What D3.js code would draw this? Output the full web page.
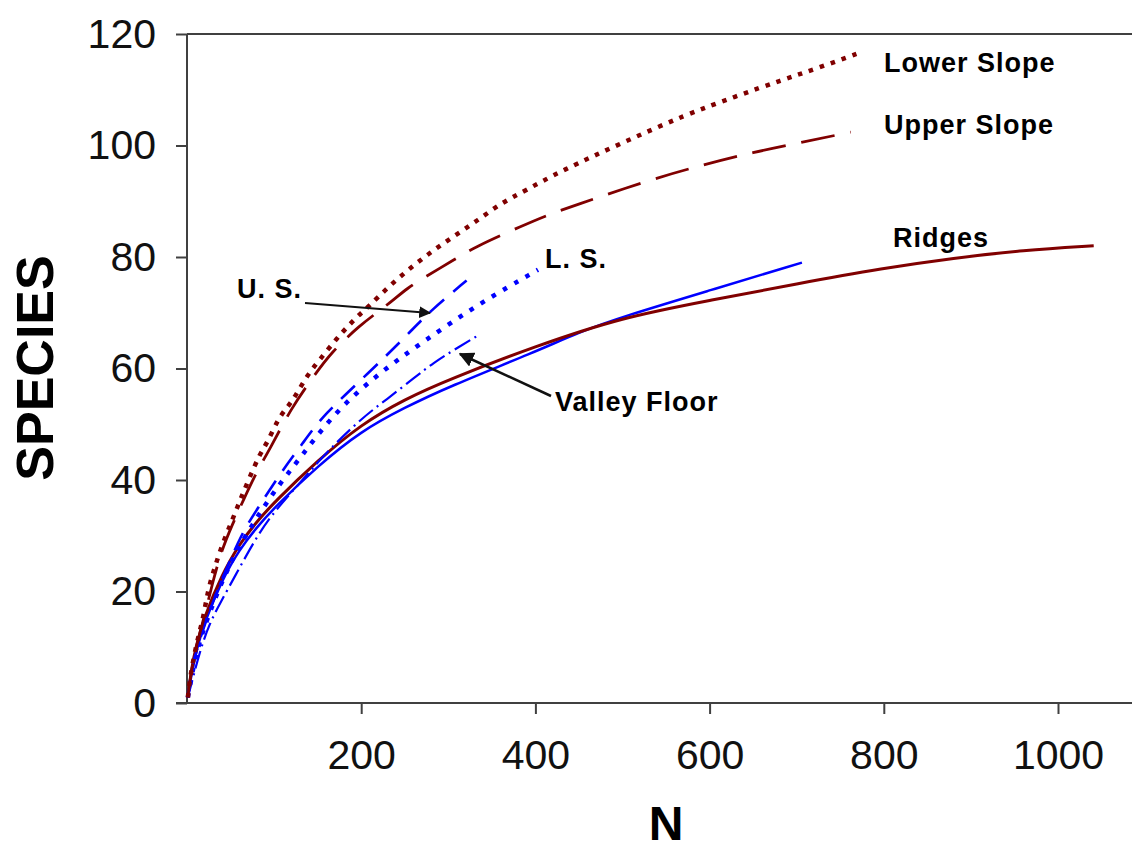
<!DOCTYPE html>
<html>
<head>
<meta charset="utf-8">
<script src="https://cdn.jsdelivr.net/npm/d3@7"></script>
<style>
  body { margin: 0; background: #fff; }
  text { font-family: "Liberation Sans", Arial, sans-serif; }
</style>
</head>
<body>
<div id="chart"></div>
<script>
// rarefaction curves, [N, species]
const lowerSlope = [[1,1],[3.5,4.7],[11,10.8],[19,15.4],[24,20.3],[32,24.4],[41,28.7],[52,32.8],[61,36.4],[72,40.5],[84,44.8],[92,46.6],[105,51.1],[115,53],[124,54.9],[138,58.8],[152,61.5],[173,65.6],[185,67.6],[196,69.4],[209,71.2],[231,74.6],[256,78],[281,81],[308,83.9],[334,86.6],[359,89.5],[387,91.8],[430,95.5],[500,100.5],[572,105.5],[630,108.8],[682,111.7],[723,113.8],[775,116.8]];
const upperSlope = [[1,1],[4,5],[11,10.5],[20,15.5],[30,22],[40,27.5],[52,32],[65,36.5],[80,41.5],[95,45.5],[120,53],[145,58.5],[166,63],[199,67.8],[218,70],[237,72.3],[253,74.4],[271,76.2],[310,79.8],[328,81.6],[386,85.7],[420,87.9],[441,89],[530,93.8],[592,96.5],[650,98.8],[707,100.6],[762,102.4]];
const ridgesRed = [[1,1],[5,6],[10,10],[20,15.5],[40,23],[60,28.5],[80,32.5],[100,36],[150,43.5],[200,50],[250,54.5],[300,58],[400,64],[500,69.2],[600,72.2],[700,75.2],[800,78],[880,79.8],[960,81.2],[1041,82]];
const ridgesBlue = [[1,1],[5,5],[10,9],[20,14.5],[40,22],[60,27.5],[80,31.5],[100,35],[150,42.5],[200,48.8],[250,53],[300,56.7],[400,63],[450,66.5],[500,69.3],[600,74],[706,79]];
const usBlue = [[1,1],[7,7.7],[23,15.4],[41,22.6],[63,30.5],[80,34.6],[107,41.2],[133,46.6],[156,51.6],[210,59.4],[256,66.5],[277,70],[321,75.8]];
const lsBlue = [[1,1],[10,9],[25,16],[50,25.5],[75,32],[100,38],[130,44],[170,52.2],[219,59],[271,64.8],[336,71.7],[403,77.7]];
const valleyBlue = [[1,1],[15,9.5],[26,14.3],[38,17.9],[57,23.3],[76,28.7],[95,33.4],[126,38.8],[160,45],[202,51.3],[229,54.4],[262,58.5],[283,61],[306,63.3],[335,66]];

const xTicks = [200, 400, 600, 800, 1000];
const yTicks = [0, 20, 40, 60, 80, 100, 120];

const series = [
  {data: ridgesBlue, color: "#0000ff", width: 2.5, dash: null},
  {data: ridgesRed, color: "#800000", width: 3, dash: null},
  {data: valleyBlue, color: "#0000ff", width: 2.2, dash: "18,5,2,5"},
  {data: lsBlue, color: "#0000ff", width: 4.5, dash: "4.5,8.5"},
  {data: usBlue, color: "#0000ff", width: 2.6, dash: "19,12"},
  {data: upperSlope, color: "#800000", width: 2.8, dash: "34,16"},
  {data: lowerSlope, color: "#800000", width: 4.5, dash: "4.5,7"}
];

const labels = [
  {text: "Lower Slope", x: 884, y: 72},
  {text: "Upper Slope", x: 884, y: 134},
  {text: "Ridges", x: 893, y: 247},
  {text: "L. S.", x: 545, y: 268},
  {text: "U. S.", x: 237, y: 298},
  {text: "Valley Floor", x: 555, y: 411}
];

const W = 1132, H = 851;
const svg = d3.select("#chart").append("svg")
    .attr("width", W).attr("height", H);

const x = d3.scaleLinear().domain([0, 1000]).range([187, 1058]);
const y = d3.scaleLinear().domain([0, 120]).range([703, 34]);

// frame: top line plus axes
svg.append("line")
    .attr("x1", 187).attr("x2", W).attr("y1", y(120)).attr("y2", y(120))
    .attr("stroke", "#404040").attr("stroke-width", 2);

const yAxis = svg.append("g")
    .attr("transform", `translate(${x(0)},0)`)
    .call(d3.axisLeft(y).tickValues(yTicks).tickSize(11).tickPadding(20));
const xAxis = svg.append("g")
    .attr("transform", `translate(0,${y(0)})`)
    .call(d3.axisBottom(x).tickValues(xTicks).tickFormat(d3.format("d"))
        .tickSize(11).tickPadding(26));

[xAxis, yAxis].forEach(g => {
  g.select(".domain").remove();
  g.selectAll(".tick line").attr("stroke", "#404040").attr("stroke-width", 2);
  g.selectAll(".tick text").attr("fill", "#111")
      .style("font-size", "41px");
});
svg.append("line")
    .attr("x1", x(0)).attr("x2", x(0)).attr("y1", y(120)).attr("y2", y(0))
    .attr("stroke", "#404040").attr("stroke-width", 2);
svg.append("line")
    .attr("x1", x(0) - 11).attr("x2", W).attr("y1", y(0)).attr("y2", y(0))
    .attr("stroke", "#404040").attr("stroke-width", 2);

const line = d3.line()
    .x(d => x(d[0]))
    .y(d => y(d[1]))
    .curve(d3.curveBasis);

svg.selectAll("path.curve")
  .data(series)
  .enter()
  .append("path")
    .attr("class", "curve")
    .attr("d", d => line(d.data))
    .attr("fill", "none")
    .attr("stroke", d => d.color)
    .attr("stroke-width", d => d.width)
    .attr("stroke-dasharray", d => d.dash);

// annotation arrows
svg.append("defs").append("marker")
    .attr("id", "arrow")
    .attr("viewBox", "0 0 10 10")
    .attr("refX", 9).attr("refY", 5)
    .attr("markerWidth", 6).attr("markerHeight", 6)
    .attr("orient", "auto")
  .append("path")
    .attr("d", "M0,0 L10,5 L0,10 z")
    .attr("fill", "#111");

svg.append("line")
    .attr("x1", 305).attr("y1", 303).attr("x2", 430).attr("y2", 313)
    .attr("stroke", "#111").attr("stroke-width", 2)
    .attr("marker-end", "url(#arrow)");
svg.append("line")
    .attr("x1", 551).attr("y1", 396).attr("x2", 460).attr("y2", 354)
    .attr("stroke", "#111").attr("stroke-width", 2.5)
    .attr("marker-end", "url(#arrow)");

svg.selectAll("text.lbl")
  .data(labels)
  .enter()
  .append("text")
    .attr("class", "lbl")
    .attr("x", d => d.x)
    .attr("y", d => d.y)
    .attr("fill", "#000")
    .style("font-size", "27px")
    .style("font-weight", "bold")
    .style("letter-spacing", "1px")
    .text(d => d.text);

// axis titles
svg.append("text")
    .attr("transform", "translate(53,368) rotate(-90)")
    .attr("text-anchor", "middle")
    .style("font-size", "52px")
    .style("font-weight", "bold")
    .text("SPECIES");
svg.append("text")
    .attr("x", 666).attr("y", 840)
    .attr("text-anchor", "middle")
    .style("font-size", "48px")
    .style("font-weight", "bold")
    .text("N");
</script>
</body>
</html>
